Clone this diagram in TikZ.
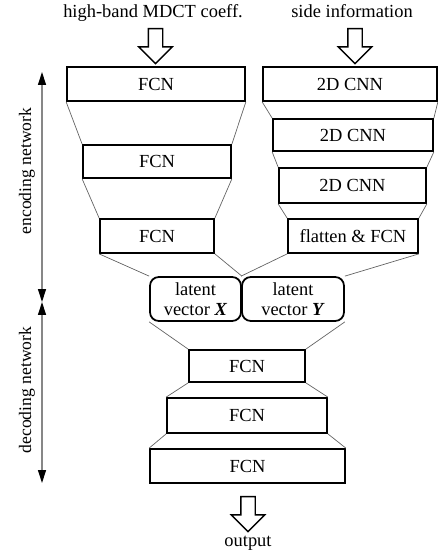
\documentclass[tikz,border=0pt]{standalone}
\usepackage{fontspec}
\setmainfont{Liberation Serif}
\usepackage{tikz}
\usetikzlibrary{arrows.meta,positioning,shapes.arrows}
\definecolor{corlinha}{RGB}{100,100,100}
\definecolor{coreixo}{RGB}{135,135,135}

\begin{document}
\begin{tikzpicture}[
  x=0.02cm, y=-0.02cm,
  every node/.style={font=\fontsize{10.5}{11.5}\selectfont},
  caixa/.style={rectangle, draw, line width=1pt, minimum height=0.68cm,
                inner sep=1pt, align=center},
  latente/.style={caixa, rounded corners=5pt, minimum height=0.88cm},
  ligacao/.style={corlinha, line width=0.4pt},
  eixo/.style={coreixo, line width=0.7pt,
               {Triangle[color=black,length=0.26cm,width=0.16cm]}-{Triangle[color=black,length=0.26cm,width=0.16cm]}},
  setaoca/.style={single arrow, draw, thick, fill=white, rotate=-90,
                  minimum height=0.7cm, minimum width=0pt,
                  inner xsep=0pt, inner ysep=0.13cm,
                  single arrow head extend=0.19cm}
]
  \useasboundingbox (0,0) rectangle (438,553);

  % entradas
  \node[anchor=base] (entA) at (153,18) {high-band MDCT coeff.};
  \node[anchor=base] (entB) at (352,18) {side information};
  \node[setaoca] (setaA) at (155.5,42.5) {};
  \node[setaoca] (setaB) at (355,42.5) {};

  % ramo esquerdo (coeficientes)
  \node[caixa, minimum width=3.56cm] (fcnA) at (156,84) {FCN};
  \node[caixa, minimum width=2.96cm, minimum height=0.66cm] (fcnB) at (157,161.5) {FCN};
  \node[caixa, minimum width=2.28cm] (fcnC) at (157,236) {FCN};

  % ramo direito (informacao lateral)
  \node[caixa, minimum width=3.48cm] (cnnA) at (350,84) {2D CNN};
  \node[caixa, minimum width=3.2cm, minimum height=0.64cm] (cnnB) at (353,135) {2D CNN};
  \node[caixa, minimum width=2.94cm, minimum height=0.7cm] (cnnC) at (352.5,185.5) {2D CNN};
  \node[caixa, minimum width=2.6cm] (plano) at (353,236) {flatten \& FCN};

  % vetores latentes
  \node[latente, minimum width=1.82cm] (latX) at (195.5,299) {latent\\ vector \textbf{\textit{X}}};
  \node[latente, minimum width=2.04cm] (latY) at (293,299) {latent\\ vector \textbf{\textit{Y}}};

  % decodificador
  \node[caixa, minimum width=2.32cm, minimum height=0.64cm] (decA) at (247,366) {FCN};
  \node[caixa, minimum width=3.2cm, minimum height=0.7cm] (decB) at (247,415.5) {FCN};
  \node[caixa, minimum width=3.9cm] (decC) at (247.5,466) {FCN};

  \node[setaoca] (setaS) at (248,510.5) {};
  \node[anchor=base] (saida) at (248,546) {output};

  % ligacoes entre camadas
  \draw[ligacao] (fcnA.south west) -- (fcnB.north west);
  \draw[ligacao] (fcnA.south east) -- (fcnB.north east);
  \draw[ligacao] (fcnB.south west) -- (fcnC.north west);
  \draw[ligacao] (fcnB.south east) -- (fcnC.north east);
  \draw[ligacao] (fcnC.south west) -- (latX.north west);
  \draw[ligacao] (fcnC.south east) -- (latX.north east);

  \draw[ligacao] (cnnA.south west) -- (cnnB.north west);
  \draw[ligacao] (cnnA.south east) -- (cnnB.north east);
  \draw[ligacao] (cnnB.south west) -- (cnnC.north west);
  \draw[ligacao] (cnnB.south east) -- (cnnC.north east);
  \draw[ligacao] (cnnC.south west) -- (plano.north west);
  \draw[ligacao] (cnnC.south east) -- (plano.north east);
  \draw[ligacao] (plano.south west) -- (latY.north west);
  \draw[ligacao] (plano.south east) -- (latY.north east);

  \draw[ligacao] (latX.south west) -- (decA.north west);
  \draw[ligacao] (latY.south east) -- (decA.north east);
  \draw[ligacao] (decA.south west) -- (decB.north west);
  \draw[ligacao] (decA.south east) -- (decB.north east);
  \draw[ligacao] (decB.south west) -- (decC.north west);
  \draw[ligacao] (decB.south east) -- (decC.north east);

  % eixos de codificacao / decodificacao
  \coordinate (eTopo) at (42,72);
  \coordinate (eMeio) at (42,302);
  \coordinate (eBase) at (42,483);
  \draw[eixo] (eTopo) -- (eMeio);
  \draw[eixo] (eMeio) -- (eBase);
  \node[rotate=90, font=\fontsize{10}{11}\selectfont] (rotCod) at (27,171) {encoding network};
  \node[rotate=90, font=\fontsize{10}{11}\selectfont] (rotDec) at (27,390) {decoding network};
\end{tikzpicture}
\end{document}
